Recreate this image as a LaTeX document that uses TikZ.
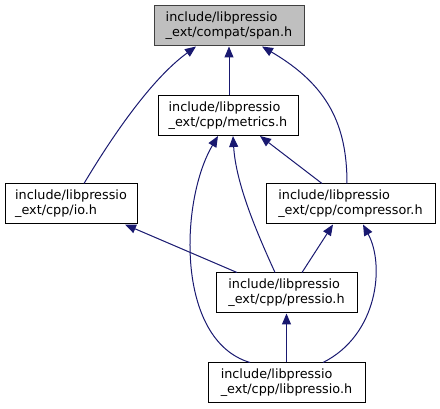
\documentclass[tikz,border=0pt]{standalone}
\usepackage{fontspec}
\setmainfont{DejaVu Sans}
\usetikzlibrary{arrows.meta}
\definecolor{edgeblue}{HTML}{191970}
\definecolor{hdrfill}{HTML}{BFBFBF}
\definecolor{hdrdraw}{HTML}{404040}
\tikzset{
  filebox/.style={draw=black, line width=1pt, fill=white, minimum height=40pt, inner sep=0pt, align=left,
    font=\fontsize{12.8}{15}\selectfont},
  curfile/.style={filebox, fill=hdrfill, draw=hdrdraw},
  incl/.style={draw=edgeblue, line width=1pt, -{Triangle[length=11pt,width=9pt]}, color=edgeblue},
}
\begin{document}
\begin{tikzpicture}[x=1pt,y=-1pt]
\useasboundingbox (0,0) rectangle (440,409);
\node[curfile, minimum width=150pt] (span) at (229,26) {include/libpressio\\\_ext/compat/span.h};
\node[filebox, minimum width=140pt] (metrics) at (228,115.5) {include/libpressio\\\_ext/cpp/metrics.h};
\node[filebox, minimum width=132pt] (io) at (71,204) {include/libpressio\\\_ext/cpp/io.h};
\node[filebox, minimum width=169pt] (comp) at (350.5,204) {include/libpressio\\\_ext/cpp/compressor.h};
\node[filebox, minimum width=141pt] (pressio) at (286.5,293) {include/libpressio\\\_ext/cpp/pressio.h};
\node[filebox, minimum width=157pt] (libp) at (286.5,383) {include/libpressio\\\_ext/cpp/libpressio.h};

% metrics -> span
\draw[incl] ([xshift=1pt]metrics.north) -- ([xshift=1pt]metrics.north |- span.south);
% io -> span
\draw[incl] ([xshift=13pt]io.north) .. controls (110,140) and (150,80) .. ([xshift=-33pt]span.south);
% compressor -> span
\draw[incl] ([xshift=-3.5pt]comp.north) .. controls (347,125) and (328,85) .. ([xshift=33pt]span.south);
% compressor -> metrics
\draw[incl] ([xshift=-28.5pt]comp.north) -- ([xshift=32pt]metrics.south);
% pressio -> metrics
\draw[incl] ([xshift=-11.5pt]pressio.north) .. controls (258,235) and (236,185) .. ([xshift=5pt]metrics.south);
% libpressio -> metrics
\draw[incl] ([xshift=-36.5pt]libp.north) .. controls (175,340) and (180,200) .. ([xshift=-10pt]metrics.south);
% io -> pressio
\draw[incl] ([xshift=-49.5pt]pressio.north) -- ([xshift=54pt]io.south);
% compressor -> pressio
\draw[incl] ([xshift=15.5pt]pressio.north) -- ([xshift=-17.5pt]comp.south);
% libpressio -> compressor
\draw[incl] ([xshift=36.5pt]libp.north) .. controls (378,335) and (385,265) .. ([xshift=12.5pt]comp.south);
% libpressio -> pressio
\draw[incl] (libp.north) -- (pressio.south);
\end{tikzpicture}
\end{document}
